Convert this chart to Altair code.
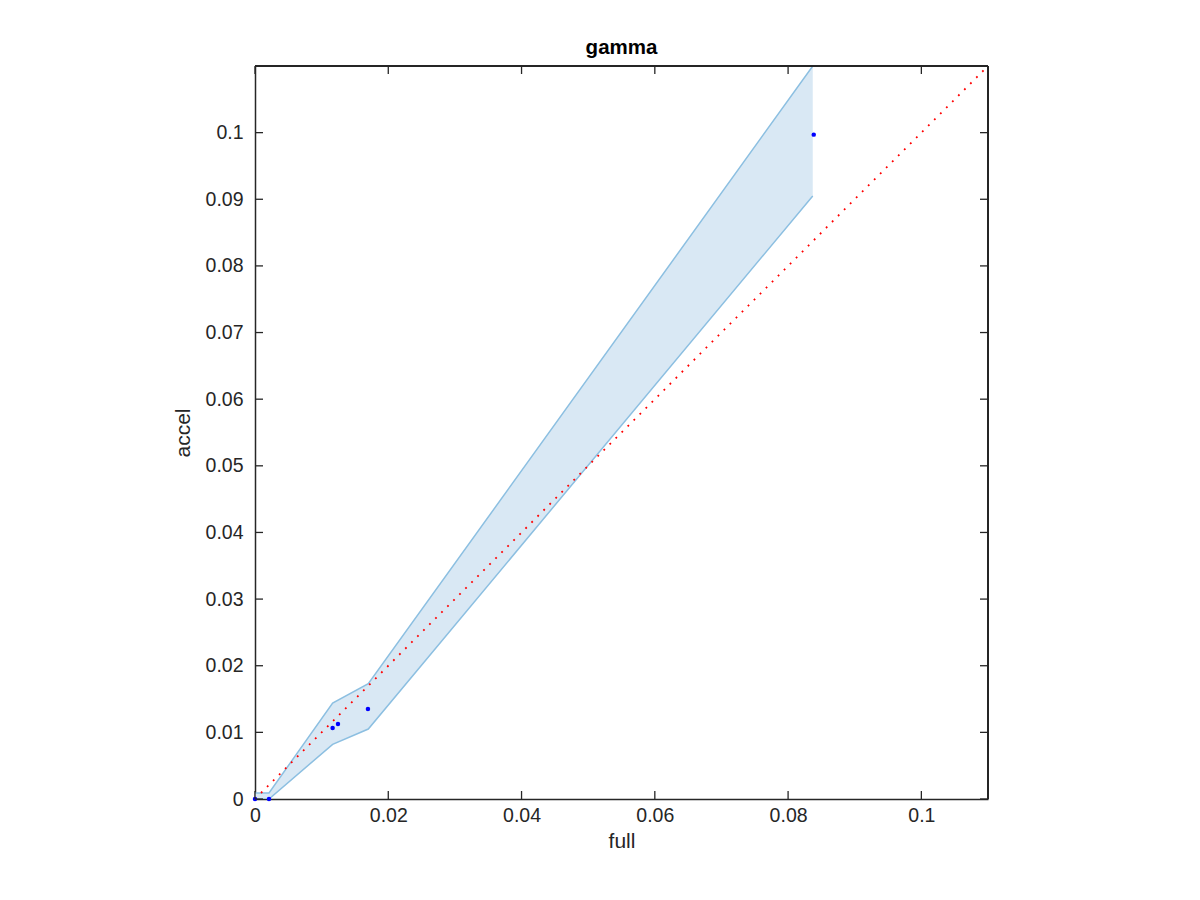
import altair as alt
import pandas as pd

# data
pt_full = [0.0, 0.0021, 0.01165, 0.01245, 0.01695, 0.08385]
pt_accel = [0.0, 0.0, 0.01065, 0.01125, 0.0135, 0.0997]

band_full = [0.0, 0.0021, 0.01165, 0.0170, 0.0837]
band_upper = [0.0009, 0.0009, 0.0144, 0.0173, 0.1100]
band_lower = [0.0, 0.0, 0.0082, 0.0105, 0.0905]

diag = [0.0, 0.11]

x_ticks = [0, 0.02, 0.04, 0.06, 0.08, 0.1]
y_ticks = [0, 0.01, 0.02, 0.03, 0.04, 0.05, 0.06, 0.07, 0.08, 0.09, 0.1]

W = 733
H = 733
FONT = "Liberation Sans"
AX = "#262626"

pts = pd.DataFrame({"full": pt_full, "accel": pt_accel})
band = pd.DataFrame({"full": band_full, "upper": band_upper, "lower": band_lower})
dg = pd.DataFrame({"full": diag, "accel": diag})
xt = pd.DataFrame({"v": x_ticks})
yt = pd.DataFrame({"v": y_ticks})

xs = alt.Scale(domain=[0, 0.11], nice=False, zero=False)
ys = alt.Scale(domain=[0, 0.11], nice=False, zero=False)

common = dict(format="~g", ticks=False, domain=True, domainColor=AX, domainWidth=1.5, grid=False,
              labelFont=FONT, labelFontSize=19.5, labelColor=AX, labelFlush=False,
              titleFont=FONT, titleFontSize=21, titleFontWeight="normal", titleColor=AX)
xaxis = alt.Axis(values=x_ticks, labelPadding=7, titlePadding=6, **common)
yaxis = alt.Axis(values=y_ticks, labelPadding=12, titlePadding=12, **common)

area = alt.Chart(band).mark_area(color="#d9e8f4", opacity=1, clip=True).encode(
    x=alt.X("full:Q", scale=xs, axis=xaxis, title="full"),
    y=alt.Y("upper:Q", scale=ys, axis=yaxis, title="accel"),
    y2="lower:Q",
)
up = alt.Chart(band).mark_line(color="#8cbfe1", strokeWidth=1.5, clip=True).encode(
    x=alt.X("full:Q", scale=xs), y=alt.Y("upper:Q", scale=ys))
lo = alt.Chart(band).mark_line(color="#8cbfe1", strokeWidth=1.5, clip=True).encode(
    x=alt.X("full:Q", scale=xs), y=alt.Y("lower:Q", scale=ys))
dline = alt.Chart(dg).mark_line(color="#ff0000", strokeWidth=1.8, strokeDash=[1.8, 6.7], clip=True).encode(
    x=alt.X("full:Q", scale=xs), y=alt.Y("accel:Q", scale=ys))
points = alt.Chart(pts).mark_circle(color="#0000ff", size=20, opacity=1).encode(
    x=alt.X("full:Q", scale=xs), y=alt.Y("accel:Q", scale=ys))

tk = dict(color=AX, strokeWidth=1.3)
tb = alt.Chart(xt).mark_rule(**tk).encode(x=alt.X("v:Q", scale=xs), y=alt.value(H), y2=alt.value(H - 8))
tt = alt.Chart(xt).mark_rule(**tk).encode(x=alt.X("v:Q", scale=xs), y=alt.value(0), y2=alt.value(8))
tl = alt.Chart(yt).mark_rule(**tk).encode(y=alt.Y("v:Q", scale=ys), x=alt.value(0), x2=alt.value(8))
tr = alt.Chart(yt).mark_rule(**tk).encode(y=alt.Y("v:Q", scale=ys), x=alt.value(W), x2=alt.value(W - 8))

# frame lines at top and right
fr = dict(color=AX, strokeWidth=1.5)
ftop = alt.Chart(xt).mark_rule(**fr).encode(x=alt.value(0), x2=alt.value(W), y=alt.value(0))
fright = alt.Chart(xt).mark_rule(**fr).encode(x=alt.value(W), y=alt.value(0), y2=alt.value(H))

chart = alt.layer(area, up, lo, dline, points, tb, tt, tl, tr, ftop, fright).properties(
    width=W, height=H,
    title=alt.Title("gamma", font=FONT, fontSize=20.5, fontWeight="bold", color="#000000", offset=7),
    autosize=alt.AutoSizeParams(type="none"),
    padding={"left": 247, "top": 58, "right": 200, "bottom": 100},
).configure_view(stroke=None).configure(background="white")

chart.save("out.html", embed_options={"renderer": "svg", "actions": False})
